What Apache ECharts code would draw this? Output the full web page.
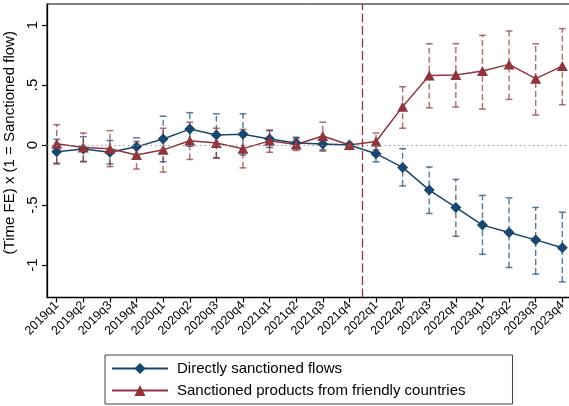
<!DOCTYPE html>
<html>
<head>
<meta charset="utf-8">
<script src="https://cdn.jsdelivr.net/npm/echarts@6/dist/echarts.min.js"></script>
<style>
html,body{margin:0;padding:0;background:#fff;}
#chart{width:569px;height:406px;}
</style>
</head>
<body>
<div id="chart"></div>
<script>
var quarters = ['2019q1','2019q2','2019q3','2019q4','2020q1','2020q2','2020q3','2020q4','2021q1','2021q2','2021q3','2021q4','2022q1','2022q2','2022q3','2022q4','2023q1','2023q2','2023q3','2023q4'];
var yTicks = [-1, -0.5, 0, 0.5, 1];
var yTickLabels = ['-1', '-.5', '0', '.5', '1'];

var directCoef = [-0.055, -0.033, -0.06, -0.015, 0.05, 0.133, 0.083, 0.09, 0.05, 0.018, 0.008, 0, -0.072, -0.186, -0.375, -0.52, -0.667, -0.728, -0.79, -0.856];
var directLo   = [-0.158, -0.136, -0.158, -0.09, -0.14, -0.01, -0.105, -0.083, -0.02, -0.03, -0.05, 0, -0.14, -0.34, -0.57, -0.76, -0.91, -1.02, -1.075, -1.14];
var directHi   = [0.048, 0.07, 0.038, 0.06, 0.24, 0.27, 0.26, 0.26, 0.12, 0.065, 0.066, 0, -0.005, -0.03, -0.183, -0.286, -0.42, -0.44, -0.52, -0.56];

var friendlyCoef = [0.01, -0.02, -0.03, -0.083, -0.04, 0.036, 0.017, -0.03, 0.035, 0.005, 0.075, 0, 0.03, 0.32, 0.58, 0.583, 0.617, 0.672, 0.553, 0.658];
var friendlyLo   = [-0.15, -0.14, -0.18, -0.2, -0.225, -0.12, -0.11, -0.19, -0.06, -0.045, -0.04, 0, -0.04, 0.14, 0.31, 0.317, 0.30, 0.38, 0.25, 0.336];
var friendlyHi   = [0.17, 0.10, 0.12, 0.03, 0.14, 0.19, 0.14, 0.13, 0.125, 0.055, 0.19, 0, 0.10, 0.486, 0.844, 0.844, 0.914, 0.95, 0.844, 0.97];

var seriesNames = ['Directly sanctioned flows', 'Sanctioned products from friendly countries'];
var sanctionStart = 11.5;

var BLUE = '#1a476f';
var RED = '#90353b';
var BLUE_CI = 'rgba(26,71,111,0.72)';
var RED_CI = 'rgba(144,53,59,0.72)';
var FONT = '"Liberation Sans", Arial, sans-serif';

function pts(arr) { return arr.map(function (v, i) { return [i, v]; }); }
function ciData(lo, hi) {
  var out = [];
  for (var i = 0; i < lo.length; i++) { if (lo[i] !== hi[i]) out.push([i, lo[i], hi[i]]); }
  return out;
}
function ciSeries(lo, hi, color) {
  return {
    type: 'custom',
    silent: true,
    z: 1,
    data: ciData(lo, hi),
    renderItem: function (params, api) {
      var x = api.value(0);
      var pLo = api.coord([x, api.value(1)]);
      var pHi = api.coord([x, api.value(2)]);
      var cw = 3.4;
      return {
        type: 'group',
        children: [
          { type: 'line', shape: { x1: pLo[0], y1: pLo[1], x2: pHi[0], y2: pHi[1] },
            style: { stroke: color, lineWidth: 1.4, lineDash: [6, 3] } },
          { type: 'line', shape: { x1: pLo[0] - cw, y1: pLo[1], x2: pLo[0] + cw, y2: pLo[1] },
            style: { stroke: color, lineWidth: 1.5 } },
          { type: 'line', shape: { x1: pHi[0] - cw, y1: pHi[1], x2: pHi[0] + cw, y2: pHi[1] },
            style: { stroke: color, lineWidth: 1.5 } }
        ]
      };
    }
  };
}

var chart = echarts.init(document.getElementById('chart'), null, { renderer: 'canvas' });
chart.setOption({
  animation: false,
  backgroundColor: '#fff',
  textStyle: { fontFamily: FONT },
  grid: { left: 47, top: 4, right: -3, bottom: 108.5, outerBoundsMode: 'none', containLabel: false, show: true, borderColor: '#000', borderWidth: 1 },
  legend: {
    orient: 'vertical',
    left: 105,
    top: 355,
    data: seriesNames,
    itemWidth: 56,
    itemHeight: 14,
    itemGap: 7,
    padding: [6, 47, 6, 6],
    borderColor: '#444',
    borderWidth: 1,
    borderRadius: 0,
    textStyle: { fontSize: 15, color: '#000', fontFamily: FONT, padding: [0, 0, 0, 4] }
  },
  xAxis: {
    type: 'value',
    min: -0.365,
    max: 19.365,
    splitLine: { show: false },
    axisLine: { show: true, onZero: false, lineStyle: { color: '#000', width: 1.3 } },
    axisTick: { show: true, length: 5, customValues: quarters.map(function (q, i) { return i; }), lineStyle: { color: '#000', width: 1.2 } },
    axisLabel: {
      customValues: quarters.map(function (q, i) { return i; }),
      rotate: 45,
      fontSize: 12.5,
      color: '#000',
      margin: 6,
      formatter: function (v) { return quarters[Math.round(v)]; }
    }
  },
  yAxis: {
    type: 'value',
    min: -1.27,
    max: 1.175,
    name: '(Time FE) x (1 = Sanctioned flow)',
    nameLocation: 'middle',
    nameRotate: 90,
    nameGap: 13,
    nameTextStyle: { fontSize: 15, color: '#000', fontFamily: FONT, padding: [0, 0, 0, 16] },
    splitLine: { show: false },
    axisLine: { show: true, onZero: false, lineStyle: { color: '#000', width: 1.3 } },
    axisTick: { show: true, length: 5, customValues: yTicks, lineStyle: { color: '#000', width: 1.2 } },
    axisLabel: {
      customValues: yTicks,
      rotate: 90,
      fontSize: 15,
      color: '#000',
      margin: 7,
      formatter: function (v) {
        for (var i = 0; i < yTicks.length; i++) { if (Math.abs(yTicks[i] - v) < 1e-6) return yTickLabels[i]; }
        return '';
      }
    }
  },
  series: [
    ciSeries(directLo, directHi, BLUE_CI),
    ciSeries(friendlyLo, friendlyHi, RED_CI),
    {
      name: seriesNames[0],
      type: 'line',
      z: 3,
      data: pts(directCoef),
      symbol: 'diamond',
      symbolSize: [11, 11],
      lineStyle: { color: BLUE, width: 1.5 },
      itemStyle: { color: BLUE },
      markLine: {
        silent: true,
        symbol: 'none',
        label: { show: false },
        data: [{ yAxis: 0 }],
        lineStyle: { color: '#999', type: [1.5, 3], width: 1.2 }
      }
    },
    {
      name: seriesNames[1],
      type: 'line',
      z: 3,
      data: pts(friendlyCoef),
      symbol: 'triangle',
      symbolSize: [11, 10],
      lineStyle: { color: RED, width: 1.5 },
      itemStyle: { color: RED },
      markLine: {
        silent: true,
        symbol: 'none',
        label: { show: false },
        data: [{ xAxis: sanctionStart }],
        lineStyle: { color: RED, type: [9, 3.5], width: 1.3 }
      }
    }
  ]
});
</script>
</body>
</html>
